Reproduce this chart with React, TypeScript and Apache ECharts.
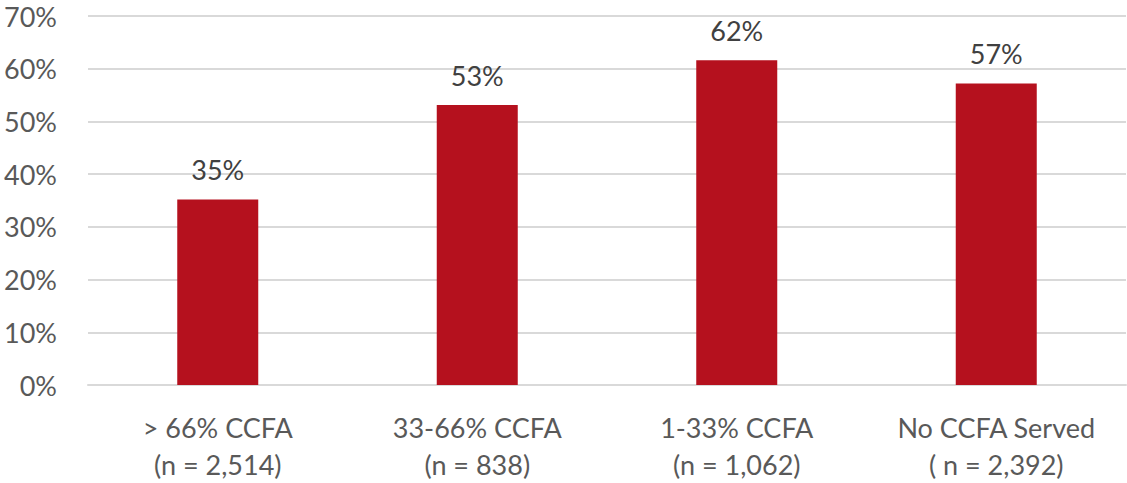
import React, { useEffect, useRef } from "react";
import * as echarts from "echarts";

// Share of students, by proportion of CCFA served
const categories = [
  "> 66% CCFA\n(n = 2,514)",
  "33-66% CCFA\n(n = 838)",
  "1-33% CCFA\n(n = 1,062)",
  "No CCFA Served\n( n = 2,392)",
];
const values = [35.2, 53.1, 61.6, 57.2];

const FONT = "Lato, 'Open Sans', sans-serif";
const TEXT = "#595959";

export default function App() {
  const ref = useRef<HTMLDivElement>(null);

  useEffect(() => {
    if (!ref.current) return;
    const chart = echarts.init(ref.current, undefined, { renderer: "svg" });
    chart.setOption({
      animation: false,
      textStyle: { fontFamily: FONT },
      grid: { left: 88, right: 1, top: 16, bottom: 98, containLabel: false },
      xAxis: {
        type: "category",
        data: categories,
        axisLine: { show: true, lineStyle: { color: "#D9D9D9", width: 2 } },
        axisTick: { show: false },
        axisLabel: {
          color: TEXT,
          fontFamily: FONT,
          fontSize: 27,
          lineHeight: 37,
          margin: 24,
        },
      },
      yAxis: {
        type: "value",
        min: 0,
        max: 70,
        interval: 10,
        axisLine: { show: false },
        axisTick: { show: false },
        splitLine: { lineStyle: { color: "#D9D9D9", width: 2 } },
        axisLabel: {
          color: TEXT,
          fontFamily: FONT,
          fontSize: 27,
          margin: 31,
          formatter: (v: number) => `${v}%`,
        },
      },
      series: [
        {
          type: "bar",
          data: values,
          barWidth: 81,
          itemStyle: { color: "#B5111E" },
          label: {
            show: true,
            position: "top",
            distance: 16,
            color: "#404040",
            fontFamily: FONT,
            fontSize: 27,
            formatter: (p: any) => `${Math.round(p.value)}%`,
          },
        },
      ],
    });
    return () => chart.dispose();
  }, []);

  return (
    <div
      ref={ref}
      style={{ position: "fixed", left: 0, top: 0, width: 1127, height: 483, background: "#fff" }}
    />
  );
}
